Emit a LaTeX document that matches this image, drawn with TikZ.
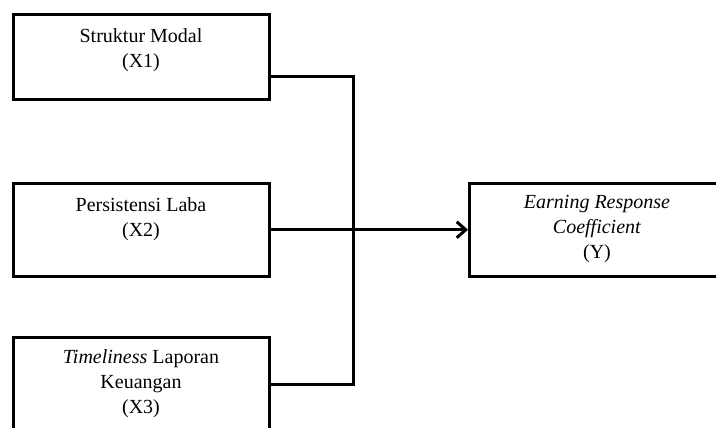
\documentclass[tikz,border=0pt]{standalone}
\usepackage{fontspec}
\setmainfont{Liberation Serif}
\usetikzlibrary{arrows.meta,calc}
\begin{document}
\begin{tikzpicture}[x=1pt,y=-1pt,
  box/.style={draw, line width=3pt, minimum width=256pt, anchor=north west, inner sep=0pt, outer sep=0pt},
  txt/.style={font=\fontsize{20}{25}\selectfont, align=center, inner sep=0pt, anchor=north},
  conn/.style={line width=3pt}]
\useasboundingbox (0,0) rectangle (716,428);
\clip (0,0) rectangle (716,428);
\node[box, minimum height=85pt] (x1) at (13,15) {};
\node[box, minimum height=93.5pt] (x2) at (13,183) {};
\node[box, minimum height=100pt] (x3) at (13,337) {};
\node[box, minimum height=93.5pt] (y) at (469,183) {};
\node[txt] (x1t) at ($(x1.north)+(0,13)$) {Struktur Modal\\(X1)};
\node[txt] (x2t) at ($(x2.north)+(0,14)$) {Persistensi Laba\\(X2)};
\node[txt] (x3t) at ($(x3.north)+(0,12)$) {\textit{Timeliness} Laporan\\Keuangan\\(X3)};
\node[txt] (yt) at ($(y.north)+(0,12)$) {\textit{Earning Response}\\\textit{Coefficient}\\(Y)};
\coordinate (j1) at (353,77);
\coordinate (j3) at (353,384);
\draw[conn] (x1.north east |- j1) -- (j1) -- (j3) -- (x3.north east |- j3);
\draw[conn, -{Straight Barb[length=9pt,width=16pt]}, shorten >=1pt] (x2.east) -- (y.west);
\end{tikzpicture}
\end{document}
